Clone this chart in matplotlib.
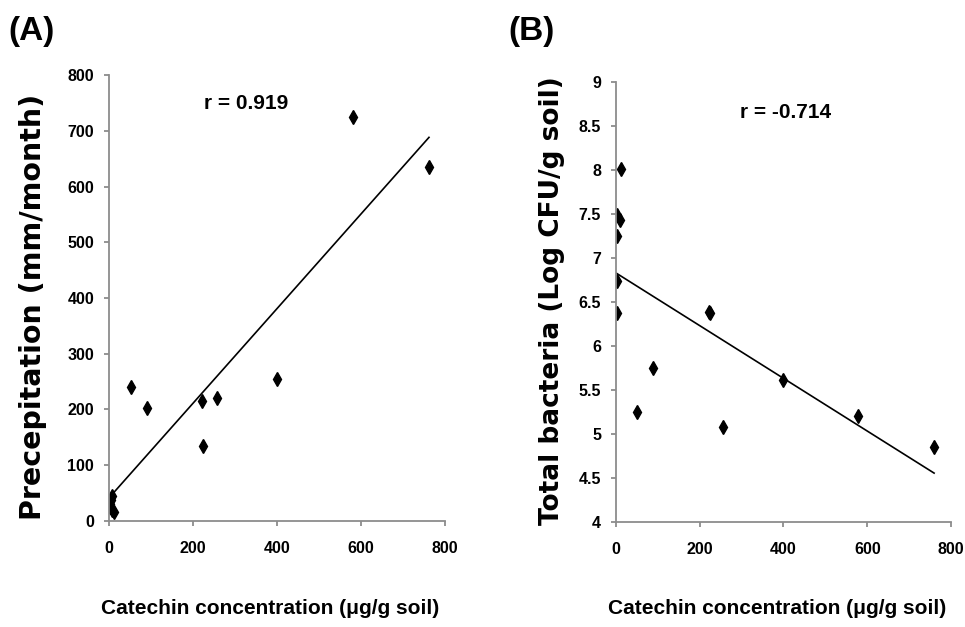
import matplotlib
matplotlib.use("agg")
import matplotlib.pyplot as plt
import numpy as np

# catechin concentration (ug/g soil), shared by both panels
catechin_a = [8, 6, 4, 2, 7, 12, 53, 90, 223, 225, 258, 400, 580, 762]
precip = [45, 38, 30, 25, 20, 16, 240, 203, 215, 135, 221, 255, 725, 635]

catechin_b = [12, 2, 10, 2, 3, 3, 52, 90, 222, 225, 256, 400, 578, 759]
bacteria = [8.01, 7.48, 7.43, 7.25, 6.73, 6.37, 5.25, 5.75, 6.38, 6.37, 5.08, 5.61, 5.20, 4.85]

xticks = [0, 200, 400, 600, 800]
yticks_a = [0, 100, 200, 300, 400, 500, 600, 700, 800]
yticks_b = [4, 4.5, 5, 5.5, 6, 6.5, 7, 7.5, 8, 8.5, 9]
ytick_labels_b = ["4", "4.5", "5", "5.5", "6", "6.5", "7", "7.5", "8", "8.5", "9"]

narrow = ["Liberation Sans", "DejaVu Sans"]
wide = ["DejaVu Sans"]

fig = plt.figure(figsize=(9.65, 6.27), dpi=100)
ax_a = fig.add_axes([0.1127, 0.1695, 0.3484, 0.7105])
ax_b = fig.add_axes([0.638, 0.168, 0.3478, 0.7017])


def style(ax, yticks, ylabels):
    for s in ["top", "right"]:
        ax.spines[s].set_visible(False)
    for s in ["left", "bottom"]:
        ax.spines[s].set_color("#8c8c8c")
        ax.spines[s].set_linewidth(1.3)
    ax.set_xlim(0, 800)
    ax.set_xticks(xticks)
    ax.set_xticklabels([str(t) for t in xticks], fontfamily=narrow,
                       fontweight="bold", fontsize=11.5)
    ax.set_yticks(yticks)
    ax.set_yticklabels(ylabels, fontfamily=narrow, fontweight="bold", fontsize=11.5)
    ax.tick_params(direction="out", color="#8c8c8c", width=1.3, length=3.5)
    ax.tick_params(axis="x", pad=11)
    ax.tick_params(axis="y", pad=7)


def scatter_fit(ax, x, y):
    ax.plot(x, y, linestyle="none", marker="d", color="black", markersize=7.5)
    k, b = np.polyfit(x, y, 1)
    xs = np.array([min(x), max(x)])
    ax.plot(xs, k * xs + b, color="black", linewidth=1.2)


scatter_fit(ax_a, catechin_a, precip)
ax_a.set_ylim(0, 800)
style(ax_a, yticks_a, [str(t) for t in yticks_a])
ax_a.text(327, 750, "r = 0.919", fontfamily=narrow, fontweight="bold",
          fontsize=15, ha="center", va="center")

scatter_fit(ax_b, catechin_b, bacteria)
ax_b.set_ylim(4, 9)
style(ax_b, yticks_b, ytick_labels_b)
ax_b.text(406, 8.65, "r = -0.714", fontfamily=narrow, fontweight="bold",
          fontsize=15, ha="center", va="center")

fig.text(0.034, 0.51, "Precepitation (mm/month)", rotation=90, ha="center",
         va="center", fontfamily=wide, fontweight="bold", fontsize=20.5)
fig.text(0.572, 0.52, "Total bacteria (Log CFU/g soil)", rotation=90, ha="center",
         va="center", fontfamily=wide, fontweight="bold", fontsize=19)

xlabel = "Catechin concentration (\u03bcg/g soil)"
fig.text(0.28, 0.03, xlabel, ha="center", va="center", fontfamily=narrow,
         fontweight="bold", fontsize=15)
fig.text(0.805, 0.03, xlabel, ha="center", va="center", fontfamily=narrow,
         fontweight="bold", fontsize=15)

fig.text(0.033, 0.949, "(A)", ha="center", va="center", fontfamily=narrow,
         fontweight="bold", fontsize=24)
fig.text(0.551, 0.949, "(B)", ha="center", va="center", fontfamily=narrow,
         fontweight="bold", fontsize=24)

fig.savefig("out.png", dpi=100, facecolor="white")
